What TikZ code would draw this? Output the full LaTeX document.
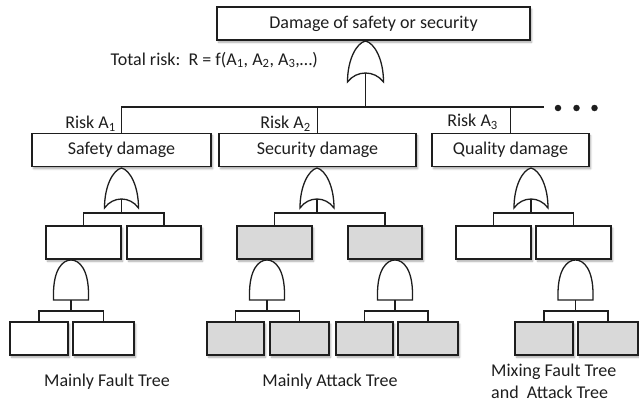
\documentclass[tikz,border=0pt]{standalone}
\usepackage{fontspec}
\setmainfont{Carlito}
\usetikzlibrary{shadows.blur,calc}

\definecolor{ink}{HTML}{1E1E1E}
\definecolor{attackfill}{HTML}{D9D9D9}

\tikzset{
  box/.style={draw=ink, line width=1.4pt, fill=white, inner sep=0pt,
    minimum height=33pt, font=\fontsize{18}{22}\selectfont, text=ink,
    blur shadow={shadow xshift=1.6pt, shadow yshift=-2.2pt, shadow blur steps=6, shadow opacity=35}},
  attack/.style={box, fill=attackfill},
  wire/.style={draw=ink, line width=1.2pt},
  gateline/.style={draw=ink, line width=1.3pt, fill=white},
  gatebox/.style={inner sep=0pt, draw=none},
  lbl/.style={inner sep=0pt, font=\fontsize{18}{22}\selectfont, text=ink},
  dot/.style={circle, fill=ink, inner sep=0pt, minimum size=6.5pt},
}

% OR gate: name, centre x, top y, width, height
\newcommand\orgateat[5]{%
  \node[gatebox, minimum width=#4, minimum height=#5] (#1) at (#2,{#3+#5/2}) {};
  \draw[gateline] ({#2-#4/2},{#3+#5})
    .. controls ({#2-#4/2},{#3+#5*0.45}) and ({#2-#4/4},{#3+2}) .. (#2,#3)
    .. controls ({#2+#4/4},{#3+2}) and ({#2+#4/2},{#3+#5*0.45}) .. ({#2+#4/2},{#3+#5})
    .. controls ({#2+#4/4},{#3+#5-12}) and ({#2-#4/4},{#3+#5-12}) .. cycle;}

% AND gate: name, centre x, top y, width, height
\newcommand\andgateat[5]{%
  \node[gatebox, minimum width=#4, minimum height=#5] (#1) at (#2,{#3+#5/2}) {};
  \draw[gateline] ({#2-#4/2},{#3+#5}) -- ({#2-#4/2},{#3+#5-6})
    .. controls ({#2-#4/2},{#3+10}) and ({#2-#4/4},#3) .. (#2,#3)
    .. controls ({#2+#4/4},#3) and ({#2+#4/2},{#3+10}) .. ({#2+#4/2},{#3+#5-6})
    -- ({#2+#4/2},{#3+#5}) -- cycle;}

\begin{document}
\begin{tikzpicture}[x=1pt, y=-1pt]
\useasboundingbox (0,0) rectangle (639,402);

% top event and the three damage categories
\node[box, minimum width=313] (top) at (373.5,23.5) {Damage of safety or security};
\node[box, minimum width=179] (safety) at (121.5,150) {Safety damage};
\node[box, minimum width=197] (security) at (317.5,150) {Security damage};
\node[box, minimum width=157] (quality) at (510.5,150) {Quality damage};

% second level events
\node[box, minimum width=75] (s1) at (83.5,242.5) {};
\node[box, minimum width=74] (s2) at (164,242.5) {};
\node[attack, minimum width=75] (c1) at (274.5,242.5) {};
\node[attack, minimum width=74] (c2) at (385,242.5) {};
\node[box, minimum width=75] (q1) at (493.5,242.5) {};
\node[box, minimum width=75] (q2) at (573.5,242.5) {};

% basic events
\node[box, minimum width=58] (s11) at (39,338.5) {};
\node[box, minimum width=61] (s12) at (103.5,338.5) {};
\node[attack, minimum width=57] (c11) at (235.5,338.5) {};
\node[attack, minimum width=59] (c12) at (299.5,338.5) {};
\node[attack, minimum width=57] (c21) at (364.5,338.5) {};
\node[attack, minimum width=60] (c22) at (428,338.5) {};
\node[attack, minimum width=58] (q21) at (544,338.5) {};
\node[attack, minimum width=60] (q22) at (608,338.5) {};

% gates
\orgateat{orT}{365.5}{41}{36}{41}
\orgateat{orS}{121.5}{168}{34}{40}
\orgateat{orC}{317}{168}{34}{40}
\orgateat{orQ}{531}{168}{34}{40}
\andgateat{andS}{71}{260}{35}{40}
\andgateat{andC1}{267}{260}{35}{40}
\andgateat{andC2}{395}{260}{35}{40}
\andgateat{andQ}{575.5}{260}{35}{40}

% bus below the top gate
\coordinate (busend) at (544,107);
\draw[wire] ([yshift=9pt]orT.south) -- (orT.south |- busend);
\draw[wire] (safety.north) |- (busend);
\draw[wire] (security.north) -- (security.north |- busend);
\draw[wire] (quality.north) -- (quality.north |- busend);
\node[dot] (dot1) at (558,108) {};
\node[dot] (dot2) at (576.5,108) {};
\node[dot] (dot3) at (594.5,108) {};

% branches under the OR gates
\coordinate (sb) at (121.5,213);
\draw[wire] ([yshift=9pt]orS.south) -- (sb);
\draw[wire] (s1.north) |- (sb) -| (s2.north);
\coordinate (cb) at (317,213);
\draw[wire] ([yshift=9pt]orC.south) -- (cb);
\draw[wire] (c1.north) |- (cb) -| (c2.north);
\coordinate (qb) at (531,213);
\draw[wire] ([yshift=9pt]orQ.south) -- (qb);
\draw[wire] (q1.north) |- (qb) -| (q2.north);

% branches under the AND gates
\coordinate (sab) at (71,311);
\draw[wire] (andS.south) -- (sab);
\draw[wire] (s11.north) |- (sab) -| (s12.north);
\coordinate (cab1) at (267,311);
\draw[wire] (andC1.south) -- (cab1);
\draw[wire] (c11.north) |- (cab1) -| (c12.north);
\coordinate (cab2) at (395,311);
\draw[wire] (andC2.south) -- (cab2);
\draw[wire] (c21.north) |- (cab2) -| (c22.north);
\coordinate (qab) at (575.5,311);
\draw[wire] (andQ.south) -- (qab);
\draw[wire] (q21.north) |- (qab) -| (q22.north);

% labels
\node[lbl, anchor=east] (total) at (318,60) {Total risk:\ \ R = f(A\textsubscript{1}, A\textsubscript{2}, A\textsubscript{3},…)};
\node[lbl, anchor=east] (riskA1) at (116,124) {Risk A\textsubscript{1}};
\node[lbl, anchor=east] (riskA2) at (311,124) {Risk A\textsubscript{2}};
\node[lbl, anchor=east] (riskA3) at (498,122) {Risk A\textsubscript{3}};
\node[lbl] (fault) at (107,382) {Mainly Fault Tree};
\node[lbl] (attackt) at (330,382) {Mainly Attack Tree};
\node[lbl, anchor=west, align=left] (mixing) at (491,381) {Mixing Fault Tree\\and\ \ Attack Tree};
\end{tikzpicture}
\end{document}
